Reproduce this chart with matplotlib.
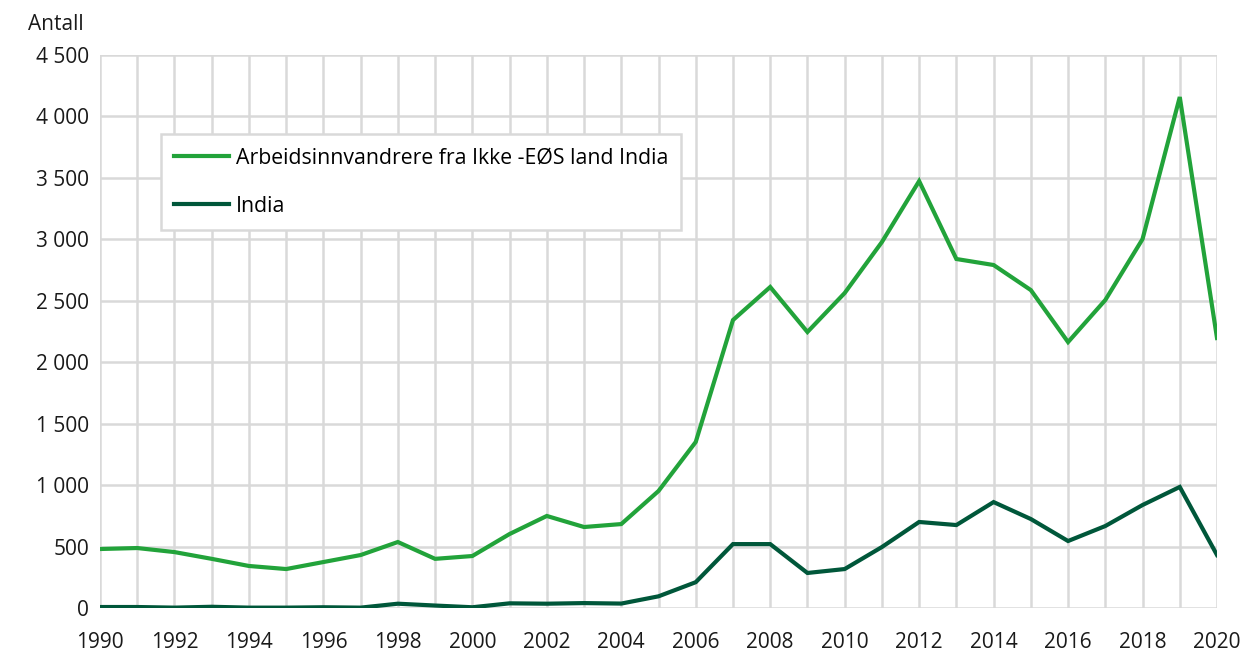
import matplotlib
matplotlib.use("Agg")
import matplotlib.pyplot as plt
from matplotlib.ticker import FuncFormatter, MultipleLocator

years = list(range(1990, 2021))
arbeid = [480, 488, 455, 400, 342, 317, 374, 431, 537, 400, 423, 602, 749, 659, 683,
          952, 1351, 2343, 2612, 2246, 2563, 2978, 3474, 2840, 2791, 2587, 2164, 2506,
          3002, 4158, 2197]
india = [8, 8, 3, 10, 3, 3, 6, 3, 35, 20, 6, 38, 35, 40, 36, 95, 210, 520, 520, 285,
         317, 496, 700, 675, 862, 724, 545, 667, 838, 985, 431]
labels = ["Arbeidsinnvandrere fra Ikke -EØS land India", "India"]

plt.rcParams['font.family'] = ['Open Sans', 'DejaVu Sans']

fig = plt.figure(figsize=(12.42, 6.54), dpi=100)
ax = fig.add_axes([100/1242, 46/654, 1117/1242, 553/654])

ax.plot(years, arbeid, color="#22a33a", lw=3.0, label=labels[0], solid_joinstyle='miter', zorder=3)
ax.plot(years, india, color="#00573a", lw=3.0, label=labels[1], solid_joinstyle='miter', zorder=3)

ax.set_xlim(1990, 2020)
ax.set_ylim(0, 4500)
ax.xaxis.set_major_locator(MultipleLocator(2))
ax.xaxis.set_minor_locator(MultipleLocator(1))
ax.yaxis.set_major_locator(MultipleLocator(500))
ax.yaxis.set_major_formatter(FuncFormatter(lambda v, p: f"{int(v):,}".replace(",", " ")))

ax.grid(True, which='both', axis='x', color="#d9d9d9", lw=1.8)
ax.grid(True, which='major', axis='y', color="#d9d9d9", lw=1.8)
ax.set_axisbelow(True)
for s in ax.spines.values():
    s.set_visible(False)
ax.tick_params(axis='both', which='both', length=0, labelsize=15, colors="#1a1a1a")
ax.tick_params(axis='x', which='major', pad=17)
ax.tick_params(axis='y', pad=8)

leg = ax.legend(loc='upper left', bbox_to_anchor=(61/1117, (608-134)/553), fontsize=15.3,
                frameon=True, fancybox=False, edgecolor="#d9d9d9", framealpha=1,
                handlelength=2.6, handletextpad=0.3, labelspacing=1.3, borderpad=0.62,
                borderaxespad=0)
leg.get_frame().set_linewidth(1.8)

fig.text(28/1242, 1 - 24/654, "Antall", fontsize=15, va='center', ha='left', color="#1a1a1a")

fig.savefig("out.png", dpi=100)
